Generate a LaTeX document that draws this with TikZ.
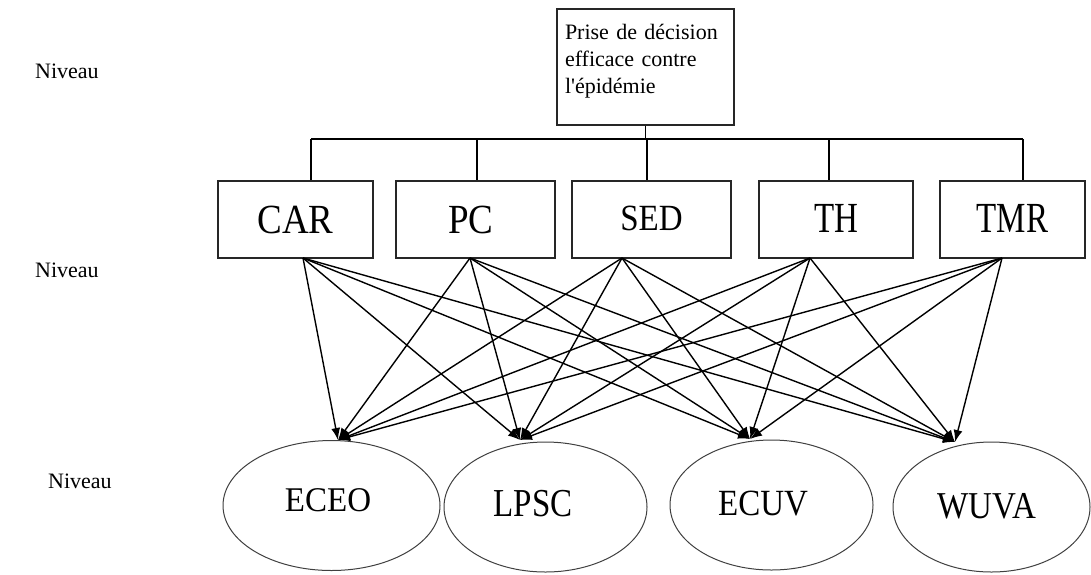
\documentclass[tikz,border=0pt]{standalone}
\usepackage{fontspec}
\setmainfont{Liberation Serif}
\newfontfamily\plainrm{Liberation Serif}
\usetikzlibrary{shapes.geometric,arrows.meta}
\begin{document}
\begin{tikzpicture}[x=1pt,y=-1pt,
 box/.style={draw=black!85,line width=1.4pt,rectangle,inner sep=0pt,minimum height=77pt},
 crit/.style={box,text depth=0pt},
 oval/.style={draw=black!75,line width=1pt,ellipse,inner sep=0pt,minimum height=130pt,text depth=0pt,font=\fontsize{33}{36}\selectfont},
 arr/.style={line width=1.4pt,-{Latex[length=12pt,width=9pt]}},
 tree/.style={line width=1.4pt,draw=black},
 lvl/.style={font=\fontsize{22}{27}\selectfont,anchor=base west,inner sep=0pt},
 big/.style={font=\fontsize{37}{40}\selectfont},
 mid/.style={font=\fontsize{33}{36}\selectfont}]
\useasboundingbox (0,0) rectangle (1091,574);
\fill[white] (0,0) rectangle (1091,574);

% level labels
\node[lvl] (n1) at (35,78) {Niveau};
\node[lvl] (n2) at (35,277) {Niveau};
\node[lvl] (n3) at (48,488) {Niveau};

% top goal
\node[box,minimum width=177pt,minimum height=116pt,align=left,text width=161pt,
      text height=20pt,text depth=76pt,
      font=\plainrm\fontsize{22}{27}\selectfont] (top) at (645.5,67)
      {Prise de décision\\efficace contre\\l'épidémie};

% criteria
\node[crit,big,minimum width=155pt,text height=27pt] (CAR) at (295.5,219.5) {\scalebox{1}[1.12]{CAR}};
\node[crit,big,minimum width=159pt,text height=27pt] (PC)  at (475.5,219.5) {\scalebox{1}[1.12]{PC}\kern9pt};
\node[crit,mid,minimum width=159pt,text height=21pt] (SED) at (651.5,219.5) {\scalebox{1}[1.12]{SED}};
\node[crit,mid,minimum width=154pt,text height=25pt] (TH)  at (836,219.5)   {\scalebox{1}[1.3]{TH}};
\node[crit,mid,minimum width=145pt,text height=25pt] (TMR) at (1012.5,219.5){\scalebox{1}[1.3]{TMR}};

% alternatives
\node[oval,minimum width=217pt,text height=12pt] (ECEO) at (331.5,505.5) {\scalebox{1}[1.05]{ECEO}\kern7pt};
\node[oval,minimum width=203pt,text height=19pt] (LPSC) at (545.5,507)   {\scalebox{1}[1.2]{LPSC}\kern25pt};
\node[oval,minimum width=203pt,text height=20pt] (ECUV) at (771.5,505)   {\scalebox{1}[1.12]{ECUV}\kern17pt};
\node[oval,minimum width=197pt,text height=22pt] (WUVA) at (991.5,507)   {\scalebox{1}[1.15]{WUVA}\kern9pt};

% tree connectors
\coordinate (bCAR) at (311,139);
\coordinate (bPC)  at (477,139);
\coordinate (bSED) at (647,139);
\coordinate (bTH)  at (829,139);
\coordinate (bTMR) at (1023,139);
\draw[tree] (top.south) -- (top.south |- bSED);
\draw[tree] (bCAR) -- (bTMR);
\draw[tree] (bCAR) -- (bCAR |- CAR.north);
\draw[tree] (bPC)  -- (bPC |- PC.north);
\draw[tree] (bSED) -- (bSED |- SED.north);
\draw[tree] (bTH)  -- (bTH |- TH.north);
\draw[tree] (bTMR) -- (bTMR |- TMR.north);

% arrow ends
\coordinate (sCAR) at (303,258);
\coordinate (sPC)  at (470,258);
\coordinate (sSED) at (622,258);
\coordinate (sTH)  at (810,258);
\coordinate (sTMR) at (1002,258);
\coordinate (tECEO) at (338,440);
\coordinate (tLPSC) at (520,440);
\coordinate (tECUV) at (750,439);
\coordinate (tWUVA) at (955,442);

\foreach \s in {sCAR,sPC,sSED,sTH,sTMR}{
  \foreach \t in {tECEO,tLPSC,tECUV,tWUVA}{
    \draw[arr] (\s) -- (\t);
  }
}
\end{tikzpicture}
\end{document}
